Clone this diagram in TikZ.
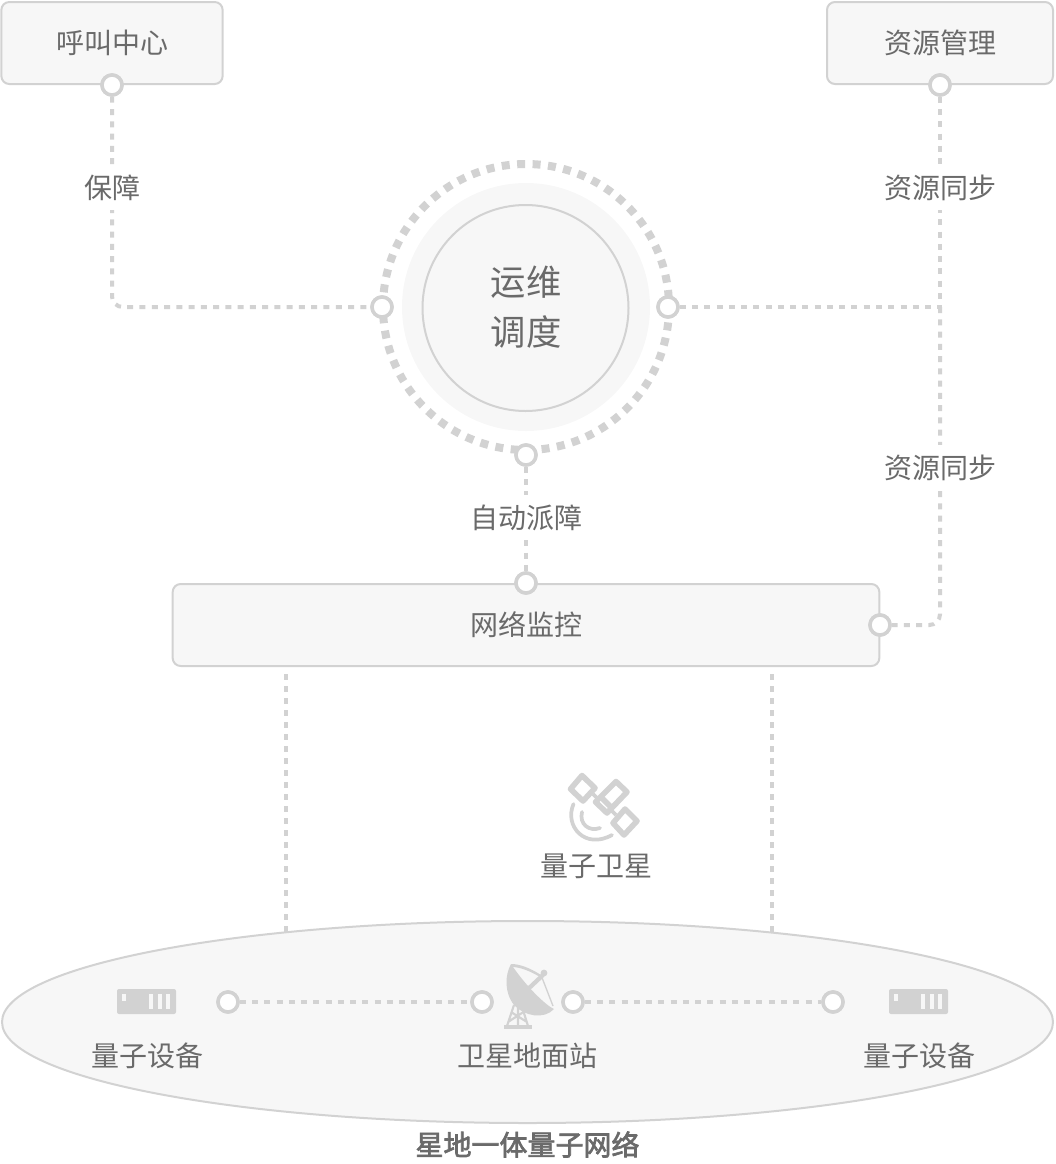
\documentclass[tikz,border=0pt]{standalone}
\usepackage{fontspec}
\setmainfont{Noto Sans CJK SC}
\newfontfamily\mediumcjk[FakeBold=2.5]{Noto Sans CJK SC}
\usepackage[dvipsnames]{xcolor}
\usetikzlibrary{positioning}
\definecolor{linegray}{HTML}{D2D2D2}
\definecolor{boxgray}{HTML}{F7F7F7}
\definecolor{textgray}{HTML}{6A6A6A}
\tikzset{
  boxnode/.style={draw=linegray,fill=boxgray,line width=1.5pt,rounded corners=6,inner sep=0pt,text=textgray,font=\fontsize{21}{24}\selectfont},
  port/.style={circle,draw=linegray,fill=white,line width=2.6pt,minimum size=15pt,inner sep=0pt},
  dotline/.style={draw=linegray,line width=3pt,dash pattern=on 4.5pt off 4.7pt},
  lab/.style={fill=white,inner sep=2pt,minimum height=34pt,text=textgray,font=\fontsize{21}{24}\selectfont},
  plainlab/.style={inner sep=0pt,text=textgray,font=\fontsize{21}{24}\selectfont},
  icon/.style={fill=linegray,draw=none},
  panel/.style={draw=linegray,line width=4.2pt,line join=round}
}
\begin{document}
\begin{tikzpicture}[x=0.75pt,y=0.75pt,yscale=-1,xscale=1]
\useasboundingbox (0,0) rectangle (1056,1164);
% boxes
\node [boxnode,minimum width=166pt,minimum height=61.5pt] (callcenter) at (112,43) {\raisebox{-.7pt}{呼叫中心}};
\node [boxnode,minimum width=169.5pt,minimum height=61.5pt] (resource) at (940,43) {\raisebox{-.7pt}{资源管理}};
\node [boxnode,minimum width=530pt,minimum height=61.5pt] (monitor) at (526,625) {\raisebox{-.7pt}{网络监控}};
% lines going down into the ground network
\coordinate (d1) at (286,674);
\coordinate (d2) at (286,945);
\coordinate (d3) at (772,674);
\coordinate (d4) at (772,945);
\draw [dotline,dash pattern=on 4.5pt off 4.5pt] (d1) -- (d2);
\draw [dotline,dash pattern=on 4.5pt off 4.5pt] (d3) -- (d4);
% ground network
\draw [draw=linegray,fill=boxgray,line width=1.5pt] (527.5,1022) ellipse (525.5 and 101);
\node [plainlab,font=\fontsize{21}{24}\selectfont\mediumcjk] (network) at (527.5,1144.5) {星地一体量子网络};
% dispatch circle
\fill [boxgray] (526,307) circle (124);
\draw [draw=linegray,fill=boxgray,line width=1.5pt] (525.5,308) circle (103);
\coordinate (hub) at (526,307);
\draw [draw=linegray,line width=6pt,dash pattern=on 6pt off 5.6pt] (hub) circle (143);
\node [inner sep=0pt,align=center,text=textgray,font=\fontsize{26.5}{37.5}\selectfont] (dispatch) at (526,307.5) {运维\\调度};
% ports
\node [port] (p1) at (112,85) {};
\node [port] (p2) at (940,85) {};
\node [port] (p3) at (382,307) {};
\node [port] (p4) at (668,307) {};
\node [port] (p5) at (526,455) {};
\node [port] (p6) at (526,583) {};
\node [port] (p7) at (880,625) {};
\node [port] (p8) at (228,1002) {};
\node [port] (p9) at (482,1002) {};
\node [port] (p10) at (573,1002) {};
\node [port] (p11) at (833,1002) {};
% corners
\coordinate (c1) at (112,307);
\coordinate (c2) at (940,625);
\coordinate (c3) at (940,307);
% connectors
\draw [dotline,rounded corners=8] (p1) -- (c1) -- (p3);
\draw [dotline] (p2) -- (c3);
\draw [dotline] (p4) -- (c3);
\draw [dotline,rounded corners=8] (c3) -- (c2) -- (p7);
\draw [dotline] (p5) -- (p6);
\draw [dotline] (p8) -- (p9);
\draw [dotline] (p10) -- (p11);
% ports again on top of the lines
\foreach \p in {p1,p2,p3,p4,p5,p6,p7,p8,p9,p10,p11}
  \draw [draw=linegray,fill=white,line width=2.6pt] (\p.center) circle (10);
% labels
\node [lab] (l1) at (112,187.5) {保障};
\node [lab] (l2) at (940,187.5) {资源同步};
\node [lab] (l3) at (940,467.5) {资源同步};
\node [lab] (l4) at (526.5,517.5) {自动派障};
\node [plainlab] (sat) at (596.5,866) {量子卫星};
\node [plainlab] (dev1) at (147,1056) {量子设备};
\node [plainlab] (station) at (527,1056) {卫星地面站};
\node [plainlab] (dev2) at (919,1056) {量子设备};
% devices
\foreach \x in {117,889}{
  \fill [icon,rounded corners=1.5] (\x,989) rectangle ++(59,25);
  \fill [boxgray] (\x+5,994) rectangle ++(4,7);
  \foreach \dx in {32,41,49}
    \fill [boxgray] (\x+\dx,994) rectangle ++(4,15);
}
% satellite
\draw [panel] (582,775.5) -- (570.5,789) -- (583,801) -- (595,788) -- cycle;
\draw [panel] (616,781.5) -- (627,792) -- (607,813) -- (595.5,802) -- cycle;
\fill [icon] (603,795) -- (613,805) -- (609,809) -- (599,799) -- cycle;
\draw [panel] (625,809) -- (637,821) -- (624,835) -- (613,823) -- cycle;
\draw [draw=linegray,line width=2.8pt] (593,794) -- (598,799) (612,811) -- (616,815);
\draw [draw=linegray,line width=2.8pt,line cap=round] (573.5,804) .. controls (564,826) and (585,850) .. (612,835);
\draw [draw=linegray,line width=2.8pt,line cap=round] (582,812) .. controls (579,824) and (589,832) .. (600,828);
% dish
\fill [icon] (511,964) .. controls (505,975) and (504,992) .. (514,1005) .. controls (524,1016) and (544,1020) .. (554,1009) .. controls (545,1005) and (525,985) .. cycle;
\fill [icon] (511,964) .. controls (520,964) and (530,968) .. (541,975) -- (540,977) .. controls (530,971) and (520,967) .. (512,967) -- cycle;
\draw [draw=linegray,line width=1pt] (541,975) -- (553,1006);
\draw [draw=linegray,line width=3.2pt] (527,990) -- (543,975);
\fill [icon] (544,973) circle (3.4);
\draw [draw=linegray,line width=1.6pt] (514,1005) -- (507,1026) (523,1010) -- (528,1026) (508,1022) -- (525,1011) (511,1012) -- (527,1022) (518,1008) -- (518,1026);
\fill [icon] (504,1025) rectangle (532,1029);
\end{tikzpicture}
\end{document}
